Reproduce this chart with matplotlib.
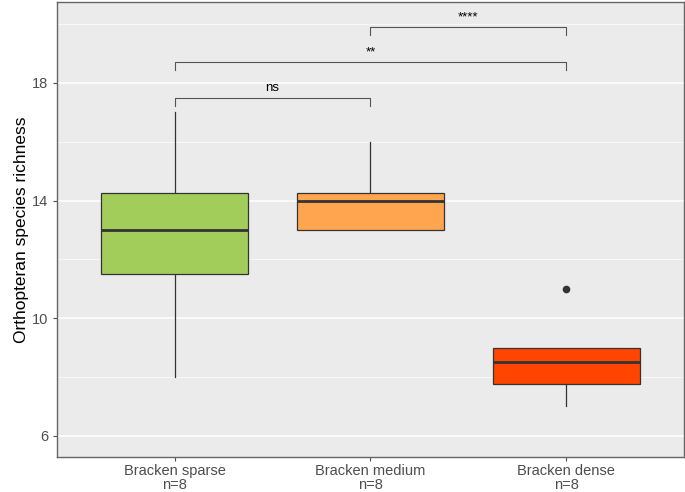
import matplotlib
matplotlib.use("Agg")
import matplotlib.pyplot as plt

plt.rcParams['font.family'] = ['Liberation Sans', 'DejaVu Sans']

groups = ["Bracken sparse", "Bracken medium", "Bracken dense"]
n_obs = [8, 8, 8]
whislo = [8, 13, 7]
q1 = [11.5, 13, 7.75]
med = [13, 14, 8.5]
q3 = [14.25, 14.25, 9]
whishi = [17, 16, 9]
fliers = [[], [], [11]]
colors = ["#A2CD5A", "#FFA54F", "#FF4500"]

# pairwise comparisons: (group a, group b, bracket height, label)
comparisons = [(1, 2, 17.5, "ns"), (1, 3, 18.7, "**"), (2, 3, 19.9, "****")]

stats = []
for i in range(len(groups)):
    stats.append(dict(med=med[i], q1=q1[i], q3=q3[i], whislo=whislo[i],
                      whishi=whishi[i], fliers=fliers[i]))

fig = plt.figure(figsize=(6.85, 4.92), dpi=100)
ax = fig.add_axes([0.0832, 0.071, 0.9153, 0.925])
ax.set_facecolor("#EBEBEB")

pos = [1, 2, 3]
bp = ax.bxp(stats, positions=pos, widths=0.75, patch_artist=True,
            showcaps=False,
            boxprops=dict(edgecolor="#333333", linewidth=0.9),
            medianprops=dict(color="#333333", linewidth=2),
            whiskerprops=dict(color="#333333", linewidth=0.9),
            flierprops=dict(marker="o", markersize=4.5, markerfacecolor="#333333",
                            markeredgecolor="#333333"))
for patch, c in zip(bp["boxes"], colors):
    patch.set_facecolor(c)
for b in bp["whiskers"]:
    b.set_zorder(2.5)
for b in bp["boxes"]:
    b.set_zorder(3)
for b in bp["medians"]:
    b.set_zorder(3.5)

for a, b, h, lab in comparisons:
    ax.plot([a, a, b, b], [h - 0.27, h, h, h - 0.27], color="#555555", lw=0.8, zorder=3)
    ax.text((a + b) / 2, h + 0.12, lab, ha="center", va="bottom", fontsize=9.5, color="black")

ax.set_xlim(0.4, 3.6)
ax.set_ylim(5.28, 20.75)
ax.set_yticks([6, 10, 14, 18])
ax.set_yticks([8, 12, 16, 20], minor=True)
ax.set_xticks(pos)
ax.set_xticklabels([f"{g}\nn={n}" for g, n in zip(groups, n_obs)], linespacing=1.0)
ax.grid(True, which="major", color="white", lw=1.1)
ax.grid(True, which="minor", color="white", lw=0.5)
ax.grid(False, axis="x")
ax.set_axisbelow(True)
ax.tick_params(axis="both", which="major", labelsize=10.5, colors="#4D4D4D",
               labelcolor="#4D4D4D", length=3, width=0.8)
ax.tick_params(axis="x", which="major", pad=2)
ax.tick_params(axis="y", which="minor", length=0)
for s in ax.spines.values():
    s.set_color("#666666")
    s.set_linewidth(1)
ax.set_ylabel("Orthopteran species richness", fontsize=12.5, color="black", labelpad=2)

fig.savefig("out.png", dpi=100)
